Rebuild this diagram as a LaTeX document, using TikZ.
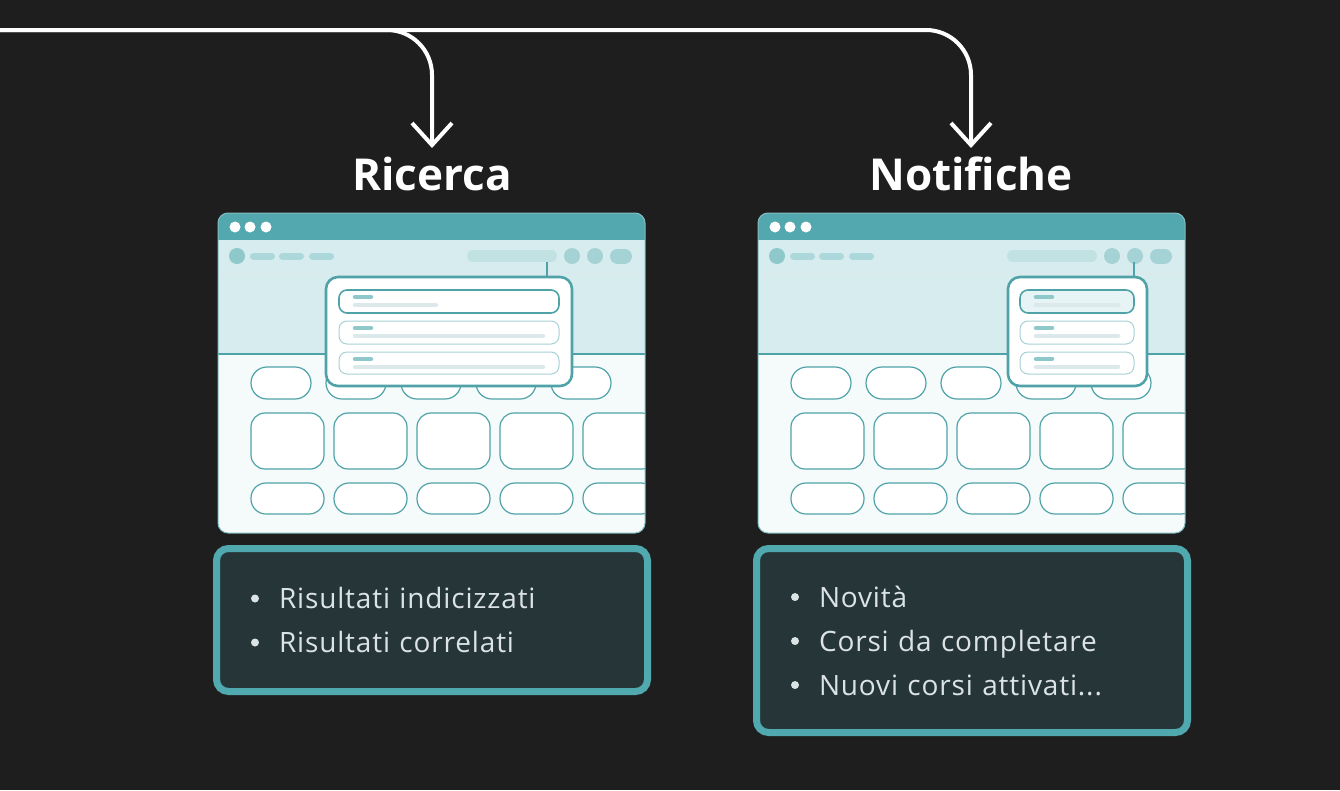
\documentclass[tikz,border=0pt]{standalone}
\usepackage{fontspec}
\setmainfont{Open Sans}
\usetikzlibrary{arrows.meta,positioning}

\definecolor{bgdark}{HTML}{1E1E1E}
\definecolor{tealbar}{HTML}{52A8AE}
\definecolor{tealline}{HTML}{4FA3A8}
\definecolor{navfill}{HTML}{D6ECEE}
\definecolor{bodyfill}{HTML}{F5FAFB}
\definecolor{navdot}{HTML}{8FC8CB}
\definecolor{navpill}{HTML}{ADD8DB}
\definecolor{searchpill}{HTML}{C2E1E3}
\definecolor{itemline}{HTML}{A6D2D5}
\definecolor{greyline}{HTML}{DCE8E9}
\definecolor{boxfill}{HTML}{263638}
\definecolor{boxline}{HTML}{50A9AE}
\definecolor{listtext}{HTML}{DCE3E5}

\newcommand\itemdot{\makebox[28pt][l]{\raisebox{6pt}{\tikz\fill[listtext] (0,0) circle (4pt);}}}

\begin{document}
\begin{tikzpicture}[x=1pt, y=-1pt,
    flow/.style = {draw=white, line width=4pt, rounded corners=45pt,
                   -{Straight Barb[length=22pt, width=40pt]}},
    title/.style = {text=white, font=\bfseries\fontsize{44}{44}\selectfont,
                    inner sep=0pt, text height=32pt, text depth=0pt,
                    outer ysep=10pt, anchor=base},
    infobox/.style = {draw=boxline, fill=boxfill, line width=7pt,
                      rounded corners=12pt, text=listtext,
                      font=\fontsize{28}{44}\selectfont\addfontfeatures{LetterSpace=3},
                      align=left, text width=362pt, inner xsep=34.5pt, inner ysep=0pt},
    pillbox/.style = {draw=tealline, line width=1.2pt, fill=white},
    popup/.style = {draw=tealline, line width=2.6pt, fill=white, rounded corners=12pt},
    popitem/.style = {draw=itemline, line width=1pt, fill=white, rounded corners=8pt},
    window/.pic = {
        \begin{scope}
            \clip[rounded corners=10pt] (0,0) rectangle (427,320);
            \fill[bodyfill] (0,0) rectangle (427,320);
            \fill[navfill] (0,27) rectangle (427,141);
            \draw[greyline, line width=1pt] (0,60) -- (427,60);
            \draw[tealline, line width=1.5pt] (0,141) -- (427,141);
            \fill[tealbar] (0,0) rectangle (427,27);
            % rows of cards
            \foreach \i in {0,...,4} {
                \draw[pillbox, rounded corners=16pt] (33+75*\i,154) rectangle ++(60,32);
                \draw[pillbox, rounded corners=14pt] (33+83*\i,200) rectangle ++(73,56);
                \draw[pillbox, rounded corners=15pt] (33+83*\i,270) rectangle ++(73,31);
            }
        \end{scope}
        \draw[tealline!70, line width=1pt, rounded corners=10pt] (0,0) rectangle (427,320);
        \foreach \x in {17,32,48} \fill[white] (\x,14) circle (5.5);
        % nav bar
        \fill[navdot] (19,43) circle (8);
        \foreach \x in {35.5,64.5,94.5}
            \draw[navpill, line width=7pt, line cap=round] (\x,43) -- ++(18,0);
        \draw[searchpill, line width=12pt, line cap=round] (255,43) -- (333,43);
        \fill[navdot!80] (354,43) circle (8);
        \fill[navdot!80] (377,43) circle (8);
        \draw[navdot!80, line width=15pt, line cap=round] (399.5,43) -- (406.5,43);
    }]

\fill[bgdark] (0,0) rectangle (1340,790);
\useasboundingbox (0,0) rectangle (1340,790);

% titles and arrows
\coordinate (start) at (0,30);
\node[title] (ricerca) at (432,190) {Ricerca};
\node[title] (notifiche) at (971,190) {Notifiche};
\draw[flow] (start) -| (ricerca);
\draw[flow] (start) -| (notifiche);

% browser mock-ups
\pic at (218,213) {window};
\pic at (758,213) {window};

% search popup
\draw[tealline, line width=2.6pt] (547,262) -- (547,278);
\draw[popup] (326,277) rectangle (572,386);
\draw[popitem, draw=tealline, line width=1.6pt] (339,290) rectangle (559,313);
\draw[popitem] (339,321) rectangle (559,344);
\draw[popitem] (339,352) rectangle (559,374);
\foreach \y in {297,328,359}
    \draw[navdot, line width=4.5pt, line cap=round] (355,\y) -- (371,\y);
\draw[greyline, line width=4.5pt, line cap=round] (355,305) -- (436,305);
\foreach \y in {336,367}
    \draw[greyline, line width=4.5pt, line cap=round] (355,\y) -- (543,\y);

% notification popup
\draw[tealline, line width=2.6pt] (1134,262) -- (1134,278);
\draw[popup] (1008,277) rectangle (1147,386);
\draw[popitem, draw=tealline, line width=1.6pt, fill=navfill!60] (1020,290) rectangle (1134,313);
\draw[popitem] (1020,321) rectangle (1134,344);
\draw[popitem] (1020,352) rectangle (1134,374);
\foreach \y in {297,328,359}
    \draw[navdot, line width=4.5pt, line cap=round] (1036,\y) -- (1052,\y);
\foreach \y in {305,336,367}
    \draw[greyline, line width=4.5pt, line cap=round] (1036,\y) -- (1118,\y);

% lists
\node[infobox, minimum height=143pt] (ricercalist) at (432,620)
    {\itemdot Risultati indicizzati\\ \itemdot Risultati correlati};
\node[infobox, minimum height=184pt] (notifichelist) at (972,640.5)
    {\itemdot Novità\\ \itemdot Corsi da completare\\ \itemdot Nuovi corsi attivati...};
\end{tikzpicture}
\end{document}
